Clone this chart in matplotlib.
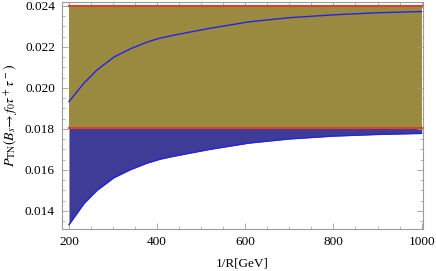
import numpy as np
import matplotlib
matplotlib.use("Agg")
import matplotlib.pyplot as plt
from matplotlib.ticker import MultipleLocator

plt.rcParams['font.family'] = ['Liberation Serif', 'DejaVu Serif']
plt.rcParams['mathtext.fontset'] = 'stix'

# valores
inv_R = [200, 234, 264, 302, 339, 377, 406, 436, 519, 609, 700, 801, 900, 1000]
p_upper = [0.01933, 0.02023, 0.02088, 0.0215, 0.0219, 0.02223, 0.02242, 0.02256,
           0.0229, 0.02322, 0.02342, 0.02356, 0.02366, 0.02372]
p_lower = [0.01333, 0.01436, 0.01501, 0.01562, 0.01601, 0.01633, 0.01652, 0.01666,
           0.017, 0.01731, 0.01751, 0.01765, 0.01773, 0.01778]
exp_low = 0.01805
exp_high = 0.024

olive = "#998a40"
navy = "#3f3c97"
red = "#e0402a"
grey = "#9a9a9a"

fig = plt.figure(figsize=(4.36, 2.71), dpi=100)
ax = fig.add_axes([0.142, 0.155, 0.828, 0.838])

x0, x1 = inv_R[0], inv_R[-1]
ax.fill_between([x0, x1], exp_low, exp_high, color=olive, lw=0)
ax.fill_between(inv_R, p_lower, exp_low, color=navy, lw=0)
ax.plot(inv_R, p_upper, color="#2323e6", lw=1.0)
ax.plot(inv_R, p_lower, color="#2323e6", lw=1.0)
ax.plot([x0, x1], [exp_high, exp_high], color=red, lw=1.5)
ax.plot([x0, x1], [exp_low, exp_low], color=red, lw=1.5)

ax.set_xlim(184, 1003)
ax.set_ylim(0.01312, 0.02419)
ax.xaxis.set_major_locator(MultipleLocator(200))
ax.xaxis.set_minor_locator(MultipleLocator(50))
ax.yaxis.set_major_locator(MultipleLocator(0.002))
ax.yaxis.set_minor_locator(MultipleLocator(0.0005))
ax.yaxis.set_major_formatter(plt.FuncFormatter(lambda v, p: f"{v:.3f}"))

for s in ax.spines.values():
    s.set_color(grey)
    s.set_linewidth(0.8)
ax.tick_params(which='both', direction='in', top=True, right=True, color=grey,
               labelsize=9.5, pad=5)
ax.tick_params(which='major', length=4, width=0.6)
ax.tick_params(which='minor', length=2, width=0.5)

ax.set_xlabel("1/R[GeV]", fontsize=9.5, labelpad=7)
ax.set_ylabel(r"$P_{\rm TN}(B_s\!\to f_0\tau^+\tau^-)$", fontsize=10, labelpad=4)

fig.savefig("out.png", dpi=100)
